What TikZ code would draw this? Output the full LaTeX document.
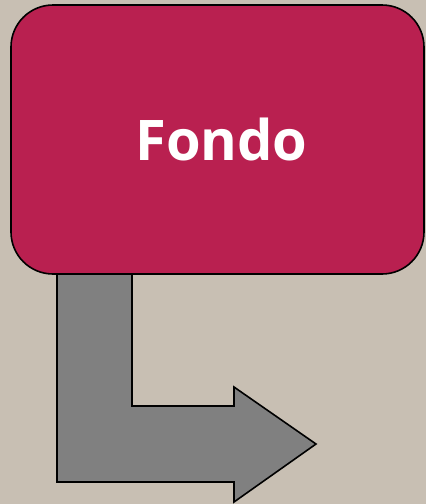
\documentclass[tikz,border=0pt]{standalone}
\usepackage{fontspec}
\setsansfont{Open Sans}
\usetikzlibrary{positioning}

\definecolor{bgbeige}{RGB}{200,191,179}
\definecolor{fondored}{RGB}{185,32,80}
\definecolor{arrowgray}{RGB}{128,128,128}

\begin{document}
\begin{tikzpicture}[
    x=1pt, y=-1pt,
    fondobox/.style={draw=black, line width=1.6pt, fill=fondored, rounded corners=42pt,
        minimum width=413pt, minimum height=269pt, inner sep=0pt,
        text=white, font=\sffamily\bfseries\fontsize{56}{60}\selectfont},
    bentarrow/.style={draw=black, line width=1.6pt, fill=arrowgray, line join=miter}
]

% Background
\fill[bgbeige] (0,0) rectangle (426,504);
\useasboundingbox (0,0) rectangle (426,504);

% Bent arrow (drawn below the box)
\coordinate (stemtop) at (57,260);
\draw[bentarrow] (stemtop) -- (132,260) -- (132,406) -- (234,406) -- (234,387)
    -- (316,444) -- (234,502) -- (234,482) -- (57,482) -- cycle;

% Box
\node[fondobox] (fondo) at (217.5,139.5) {\hspace{8pt}Fondo};

\end{tikzpicture}
\end{document}
